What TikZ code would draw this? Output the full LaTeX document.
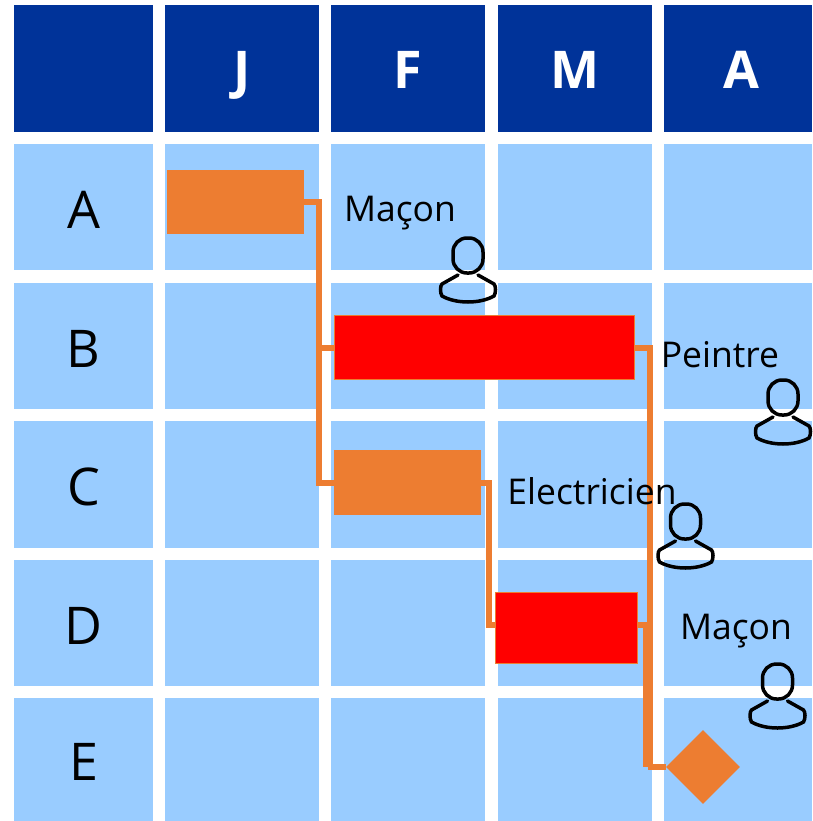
\documentclass[tikz,border=0pt]{standalone}
\usepackage{fontspec}
\setmainfont{Open Sans}
\usetikzlibrary{shapes.geometric}
\definecolor{headblue}{HTML}{003399}
\definecolor{rowblue}{HTML}{99CCFF}
\definecolor{barorange}{HTML}{ED7D31}
\tikzset{
  headcell/.style={fill=headblue, text=white, inner sep=0pt, text height=41pt, text depth=0pt, font=\fontsize{52}{52}\selectfont\bfseries},
  bodycell/.style={fill=rowblue, text=black, inner sep=0pt, text height=42pt, text depth=0pt, font=\fontsize{52}{52}\selectfont},
  taskbar/.style={fill=barorange, inner sep=0pt},
  critbar/.style={fill=red, draw=barorange, line width=1pt, inner sep=0pt},
  link/.style={draw=barorange, line width=6pt},
  linkthick/.style={draw=barorange, line width=10pt},
  worker/.style={font=\fontsize{35.5}{36}\selectfont, inner sep=0pt},
  personicon/.pic={
    \draw[line width=3.5pt, rounded corners=14pt] (-15,0) rectangle (15,35);
    \draw[line width=3.5pt, line cap=round] (-10,37) -- (-26,46) .. controls (-28,48) and (-28,55) .. (-26,58)
      .. controls (-12,66) and (12,66) .. (26,58) .. controls (28,55) and (28,48) .. (26,46) -- (10,37);
  }
}

\begin{document}
\begin{tikzpicture}[x=1pt,y=-1pt]
            \useasboundingbox (0,0) rectangle (812,821);

            \node[headcell, minimum width=139pt, minimum height=127pt] (corner) at (83.5,68.5) {};
            \node[headcell, minimum width=154pt, minimum height=127pt] (headJ) at (242,68.5) {J};
            \node[headcell, minimum width=154pt, minimum height=127pt] (headF) at (408,68.5) {F};
            \node[headcell, minimum width=154pt, minimum height=127pt] (headM) at (575,68.5) {M};
            \node[headcell, minimum width=148pt, minimum height=127pt] (headA) at (738,68.5) {\hspace*{6pt}A};

            \node[bodycell, minimum width=139pt, minimum height=126pt] (rowA) at (83.5,207) {A};
            \node[bodycell, minimum width=154pt, minimum height=126pt] (cellAJ) at (242,207) {};
            \node[bodycell, minimum width=154pt, minimum height=126pt] (cellAF) at (408,207) {};
            \node[bodycell, minimum width=154pt, minimum height=126pt] (cellAM) at (575,207) {};
            \node[bodycell, minimum width=148pt, minimum height=126pt] (cellAA) at (738,207) {};

            \node[bodycell, minimum width=139pt, minimum height=126pt] (rowB) at (83.5,346) {B};
            \node[bodycell, minimum width=154pt, minimum height=126pt] (cellBJ) at (242,346) {};
            \node[bodycell, minimum width=154pt, minimum height=126pt] (cellBF) at (408,346) {};
            \node[bodycell, minimum width=154pt, minimum height=126pt] (cellBM) at (575,346) {};
            \node[bodycell, minimum width=148pt, minimum height=126pt] (cellBA) at (738,346) {};

            \node[bodycell, minimum width=139pt, minimum height=127pt] (rowC) at (83.5,484.5) {C};
            \node[bodycell, minimum width=154pt, minimum height=127pt] (cellCJ) at (242,484.5) {};
            \node[bodycell, minimum width=154pt, minimum height=127pt] (cellCF) at (408,484.5) {};
            \node[bodycell, minimum width=154pt, minimum height=127pt] (cellCM) at (575,484.5) {};
            \node[bodycell, minimum width=148pt, minimum height=127pt] (cellCA) at (738,484.5) {};

            \node[bodycell, minimum width=139pt, minimum height=126pt] (rowD) at (83.5,623) {D};
            \node[bodycell, minimum width=154pt, minimum height=126pt] (cellDJ) at (242,623) {};
            \node[bodycell, minimum width=154pt, minimum height=126pt] (cellDF) at (408,623) {};
            \node[bodycell, minimum width=154pt, minimum height=126pt] (cellDM) at (575,623) {};
            \node[bodycell, minimum width=148pt, minimum height=126pt] (cellDA) at (738,623) {};

            \node[bodycell, minimum width=139pt, minimum height=123pt] (rowE) at (83.5,759.5) {E};
            \node[bodycell, minimum width=154pt, minimum height=123pt] (cellEJ) at (242,759.5) {};
            \node[bodycell, minimum width=154pt, minimum height=123pt] (cellEF) at (408,759.5) {};
            \node[bodycell, minimum width=154pt, minimum height=123pt] (cellEM) at (575,759.5) {};
            \node[bodycell, minimum width=148pt, minimum height=123pt] (cellEA) at (738,759.5) {};

            \node[taskbar, minimum width=137pt, minimum height=64pt] (taskA) at (235.5,202) {};
            \node[critbar, minimum width=300pt, minimum height=64pt] (taskB) at (484.5,347.5) {};
            \node[taskbar, minimum width=147pt, minimum height=65pt] (taskC) at (407.5,482.5) {};
            \node[critbar, minimum width=142pt, minimum height=71pt] (taskD) at (566,628) {};
            \node[diamond, aspect=1, fill=barorange, inner sep=0pt, minimum width=74pt, minimum height=74pt] (finish) at (703,767) {};

            \coordinate (busA) at (319,347.5);
            \coordinate (busB) at (650,625);
            \coordinate (busC) at (489,625);
            \coordinate (busD) at (648,625);

            \draw[link] (taskA.east) -| (busA) |- (taskC.west);
            \draw[link] (busA) -- (taskB.west);
            \draw[link] (taskC.east) -| (busC) -- (taskD.west |- busC);
            \draw[link] (taskB.east) -| (busB) -- (taskD.east |- busB);
            \draw[linkthick] (busD) -- (busD |- finish);
            \draw[link] (busD |- finish) -- (finish.west);

            \node[worker] (labelA) at (400,213) {Maçon};
            \node[worker] (labelB) at (720,355) {Peintre};
            \node[worker] (labelC) at (592,491) {Electricien};
            \node[worker] (labelD) at (736,631) {Maçon};

            \pic (personA) at (468,238) {personicon};
            \pic (personB) at (783,380) {personicon};
            \pic (personC) at (685.5,504) {personicon};
            \pic (personD) at (777.5,664) {personicon};
        \end{tikzpicture}
\end{document}
